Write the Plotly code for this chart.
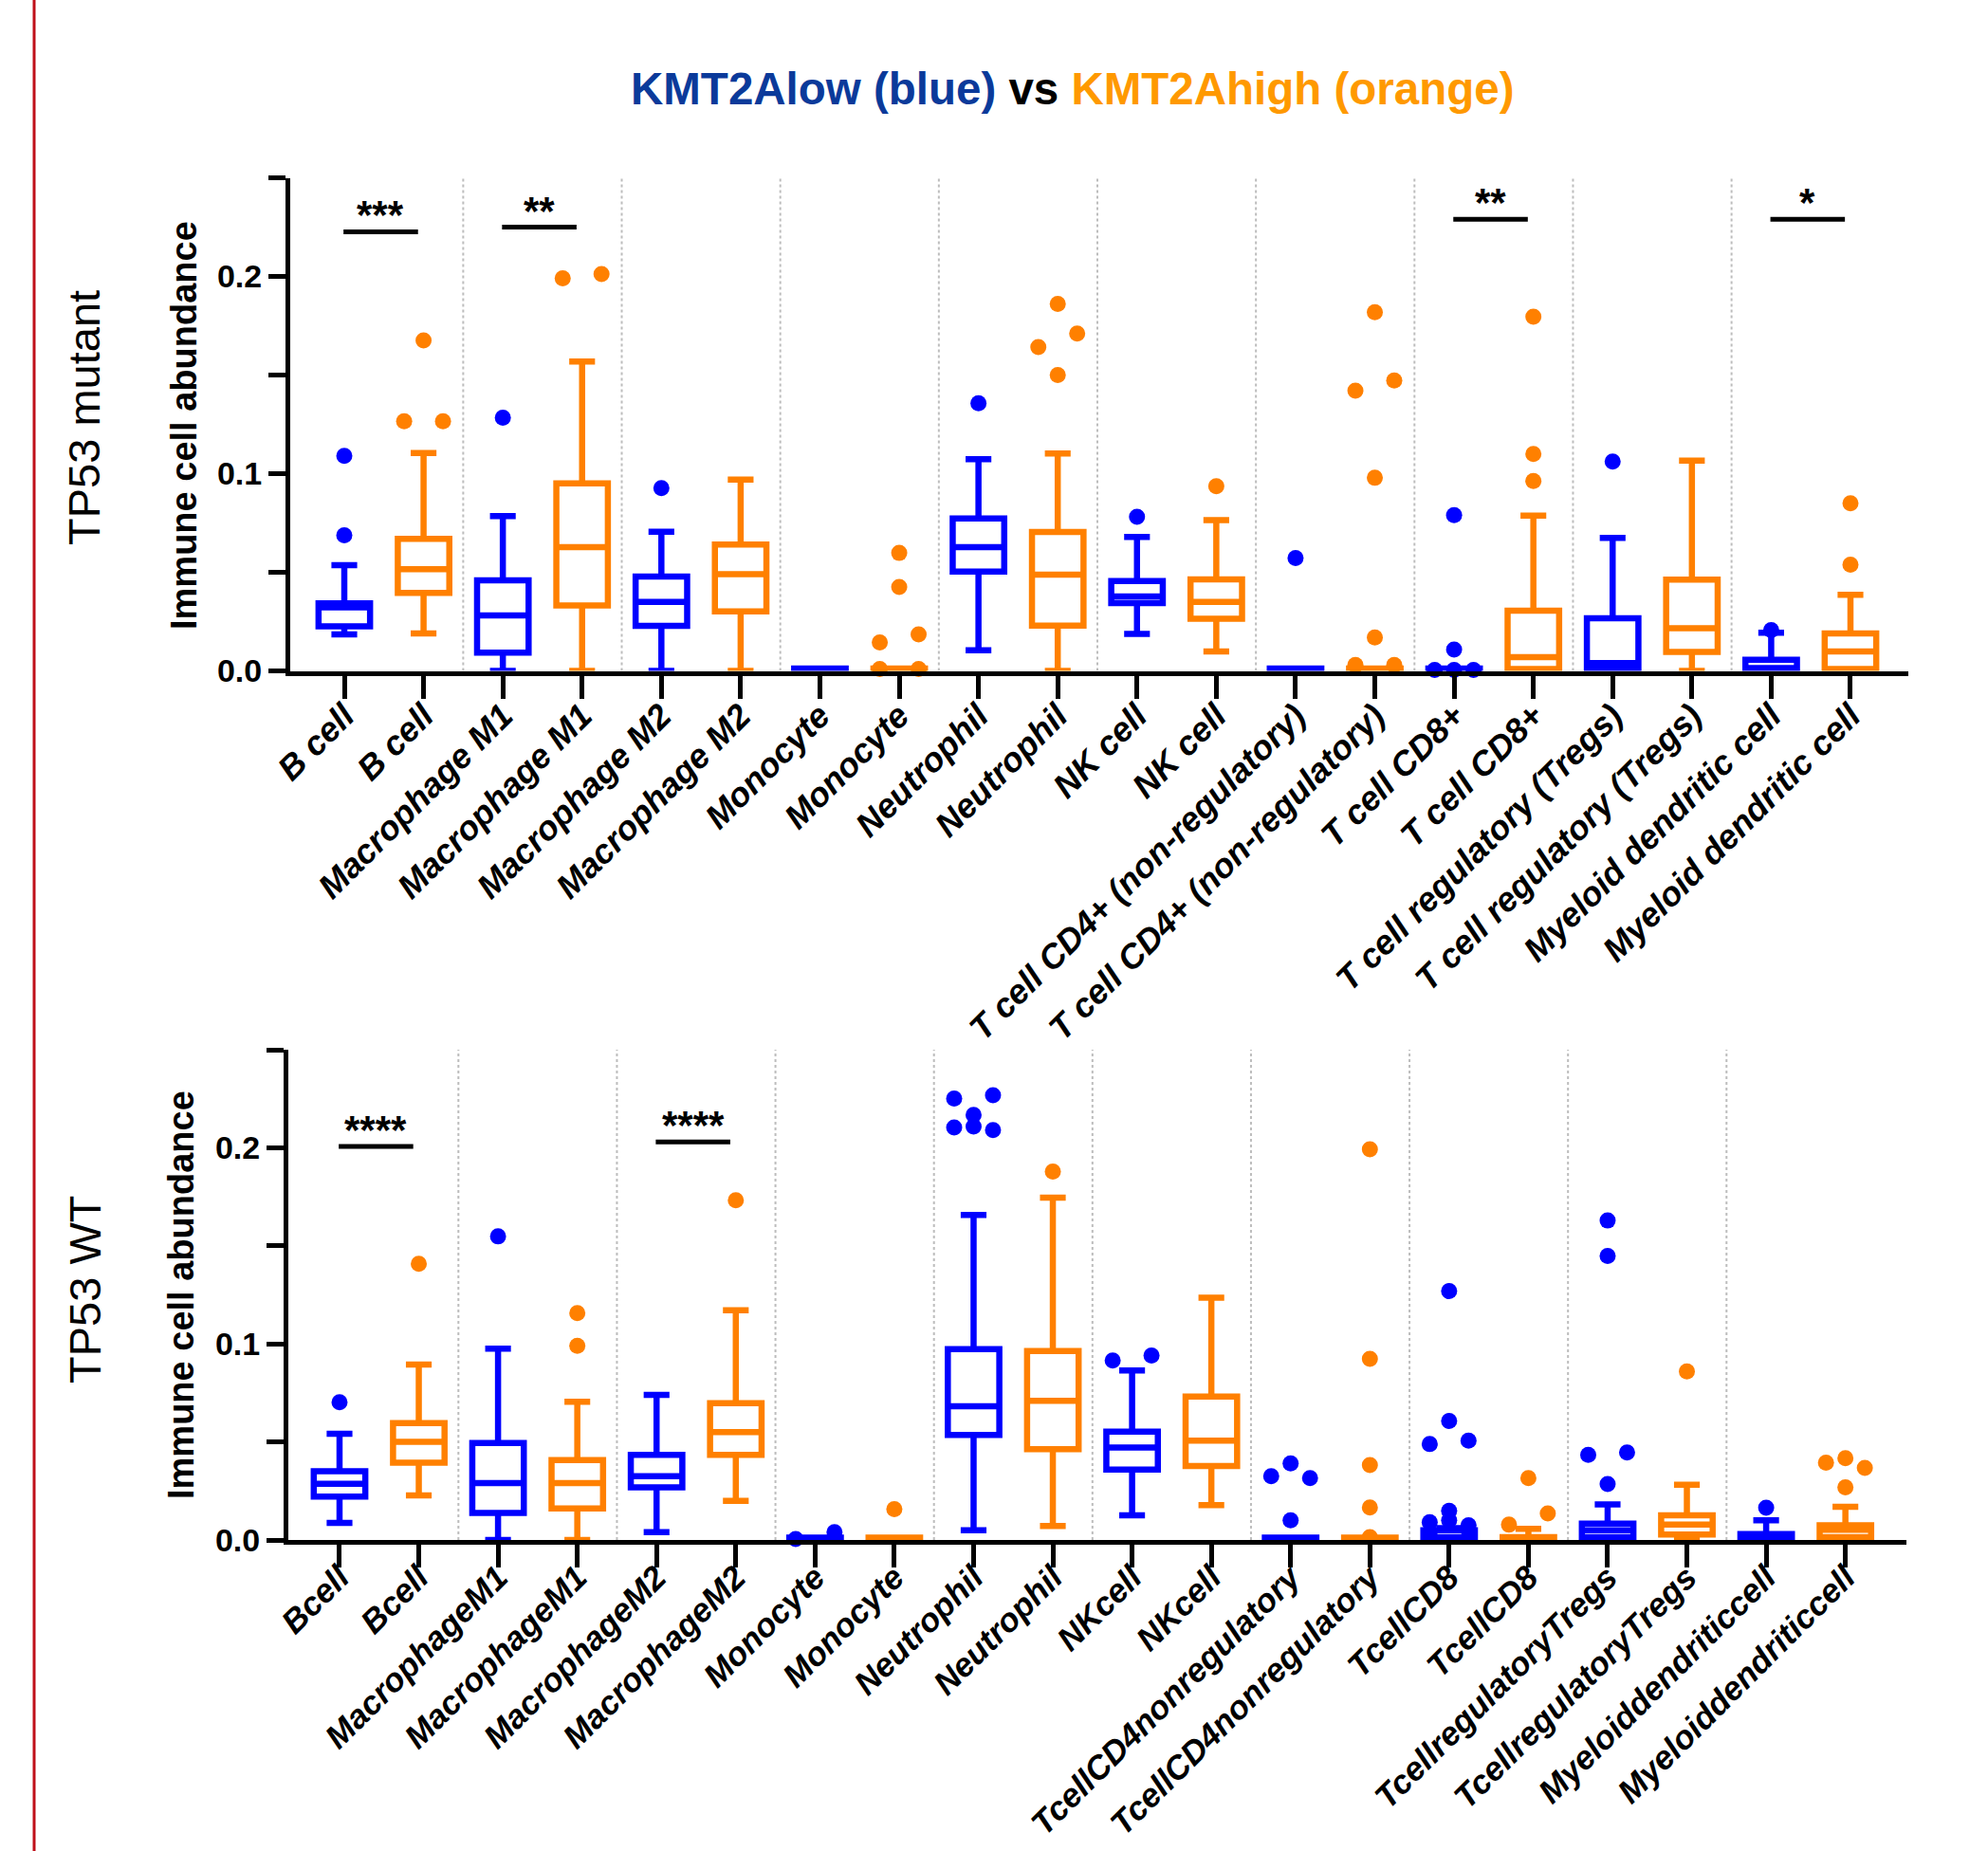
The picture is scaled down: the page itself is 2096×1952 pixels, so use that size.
import plotly.graph_objects as go

W, H = 2096, 1952
FONT = "Liberation Sans, Arial, sans-serif"
BLUE = "#0000FF"
ORANGE = "#FF8000"

labels_top = ["B cell", "B cell", "Macrophage M1", "Macrophage M1", "Macrophage M2", "Macrophage M2",
              "Monocyte", "Monocyte", "Neutrophil", "Neutrophil", "NK cell", "NK cell",
              "T cell CD4+ (non-regulatory)", "T cell CD4+ (non-regulatory)", "T cell CD8+", "T cell CD8+",
              "T cell regulatory (Tregs)", "T cell regulatory (Tregs)",
              "Myeloid dendritic cell", "Myeloid dendritic cell"]
labels_bottom = ["Bcell", "Bcell", "MacrophageM1", "MacrophageM1", "MacrophageM2", "MacrophageM2",
                 "Monocyte", "Monocyte", "Neutrophil", "Neutrophil", "NKcell", "NKcell",
                 "TcellCD4nonregulatory", "TcellCD4nonregulatory", "TcellCD8", "TcellCD8",
                 "TcellregulatoryTregs", "TcellregulatoryTregs",
                 "Myeloiddendriticcell", "Myeloiddendriticcell"]

# ---- TP53 mutant, KMT2A low (blue); order: B, M1, M2, Mono, Neut, NK, CD4, CD8, Treg, mDC
mut_low_lower = [0.0185, 0.0, 0.0, 0.0008, 0.0105, 0.0187, 0.0008, 0.0008, 0.0, 0.0]
mut_low_q1 = [0.0226, 0.0093, 0.0228, 0.0008, 0.0504, 0.0344, 0.0008, 0.0008, 0.0010, 0.0008]
mut_low_median = [0.0322, 0.0281, 0.0350, 0.0010, 0.0627, 0.0378, 0.0010, 0.0010, 0.0040, 0.0015]
mut_low_q3 = [0.0343, 0.0459, 0.0478, 0.0012, 0.0773, 0.0456, 0.0012, 0.0012, 0.0267, 0.0057]
mut_low_upper = [0.0536, 0.0785, 0.0706, 0.0012, 0.1073, 0.0679, 0.0012, 0.0012, 0.0674, 0.0194]
mut_low_out = [[0.109, 0.0687], [0.1284], [0.0927], [], [0.1357], [0.0781], [0.0572],
               [0.079, 0.0108, 0.0005, 0.0005, 0.0005], [0.1061], [0.0207]]

# ---- TP53 mutant, KMT2A high (orange)
mut_high_lower = [0.019, 0.0, 0.0, 0.0008, 0.0, 0.0099, 0.0008, 0.0, 0.0, 0.0]
mut_high_q1 = [0.0396, 0.0332, 0.0302, 0.0008, 0.0230, 0.0264, 0.0008, 0.0010, 0.0096, 0.0010]
mut_high_median = [0.0516, 0.0627, 0.0490, 0.0010, 0.0488, 0.0350, 0.0010, 0.0070, 0.0216, 0.0098]
mut_high_q3 = [0.0670, 0.0951, 0.0641, 0.0012, 0.0704, 0.0464, 0.0012, 0.0305, 0.0463, 0.0190]
mut_high_upper = [0.1104, 0.1568, 0.0970, 0.0012, 0.1102, 0.0764, 0.0012, 0.0787, 0.1066, 0.0386]
mut_high_out = [[0.1676, 0.1266, 0.1266], [0.2012, 0.199], [], [0.0598, 0.0425, 0.0185, 0.0144, 0.001, 0.001],
                [0.1861, 0.171, 0.1642, 0.150], [0.0936], [0.1818, 0.1472, 0.1421, 0.0979, 0.017, 0.003, 0.003],
                [0.1796, 0.110, 0.0963], [], [0.085, 0.0538]]

# ---- TP53 WT, KMT2A low (blue)
wt_low_lower = [0.0087, 0.0, 0.0040, 0.0008, 0.0049, 0.0126, 0.0008, 0.0, 0.0, 0.0]
wt_low_q1 = [0.0221, 0.0138, 0.0268, 0.0008, 0.0535, 0.0359, 0.0008, 0.0008, 0.0014, 0.0005]
wt_low_median = [0.0287, 0.0290, 0.0325, 0.0010, 0.0682, 0.0472, 0.0010, 0.0015, 0.0049, 0.0014]
wt_low_q3 = [0.0351, 0.0494, 0.0434, 0.0012, 0.0973, 0.0553, 0.0012, 0.0050, 0.0083, 0.0030]
wt_low_upper = [0.0541, 0.0976, 0.0740, 0.0012, 0.1658, 0.0864, 0.0012, 0.0060, 0.0181, 0.0100]
wt_low_out = [[0.0702], [0.1548], [], [0.004, 0.0005], [0.2268, 0.2251, 0.2168, 0.2108, 0.2104, 0.209],
              [0.0941, 0.0915], [0.039, 0.0325, 0.0316, 0.010],
              [0.1269, 0.0607, 0.0506, 0.0489, 0.0149, 0.010, 0.0091, 0.0075, 0.005, 0.004],
              [0.1629, 0.1448, 0.0446, 0.0434, 0.0285], [0.0164]]

# ---- TP53 WT, KMT2A high (orange)
wt_high_lower = [0.0227, 0.0, 0.0200, 0.0008, 0.0071, 0.0178, 0.0008, 0.0, 0.0, 0.0]
wt_high_q1 = [0.0394, 0.0161, 0.0434, 0.0008, 0.0463, 0.0377, 0.0008, 0.0008, 0.0028, 0.0014]
wt_high_median = [0.0500, 0.0290, 0.0550, 0.0010, 0.0710, 0.0506, 0.0010, 0.0010, 0.0078, 0.0052]
wt_high_q3 = [0.0596, 0.0408, 0.0697, 0.0012, 0.0964, 0.0731, 0.0012, 0.0015, 0.0126, 0.0075]
wt_high_upper = [0.0895, 0.0705, 0.1171, 0.0012, 0.1746, 0.1235, 0.0012, 0.0057, 0.0282, 0.0169]
wt_high_out = [[0.1408], [0.1157, 0.099], [0.1732], [0.0157], [0.1879], [],
               [0.1992, 0.0924, 0.0382, 0.0166, 0.0014], [0.0316, 0.0135, 0.0078], [0.086],
               [0.0417, 0.0394, 0.0368, 0.0268]]

# significance annotations (index of the blue category of each pair, label, bar height)
sig_top_idx = [0, 2, 14, 18]
sig_top_lab = ["***", "**", "**", "*"]
sig_top_h = [0.2226, 0.2250, 0.2290, 0.2290]
sig_bot_idx = [0, 4]
sig_bot_lab = ["****", "****"]
sig_bot_h = [0.2007, 0.2030]

yticks = [0.0, 0.05, 0.10, 0.15, 0.20, 0.25]
yticktext = ["0.0", "", "0.1", "", "0.2", ""]


def split_cluster(c):
    if len(c) <= 3:
        return [c]
    return split_cluster(c[:len(c) - 3]) + [c[len(c) - 3:]]


def swarm_offsets(vals, thr=0.0082, s=0.245):
    order = sorted(range(len(vals)), key=lambda i: -vals[i])
    offs = [0.0] * len(vals)
    clusters = []
    for i in order:
        if clusters and vals[clusters[-1][0]] - vals[i] < thr:
            clusters[-1].append(i)
        else:
            clusters.append([i])
    rows = []
    for c in clusters:
        rows.extend(split_cluster(c))
    for c in rows:
        n = len(c)
        pat = {1: [0.0], 2: [s, -s], 3: [0.0, -s, s]}[n]
        for idx, p in zip(c, pat):
            offs[idx] = p
    return offs


fig = go.Figure()


def add_group(lower, q1, med, q3, upper, outs, g, color, xa, ya):
    xs = [2 * j + g for j in range(10)]
    fig.add_trace(go.Box(
        x=xs, q1=q1, median=med, q3=q3, lowerfence=lower, upperfence=upper,
        boxpoints=False, width=0.65, whiskerwidth=0.5,
        line=dict(color=color, width=6.5), fillcolor="rgba(0,0,0,0)",
        xaxis=xa, yaxis=ya, showlegend=False, hoverinfo="skip"))
    px, py = [], []
    for j, vals in enumerate(outs):
        offs = swarm_offsets(vals)
        for v, o in zip(vals, offs):
            px.append(2 * j + g + o)
            py.append(v)
    fig.add_trace(go.Scatter(
        x=px, y=py, mode="markers", marker=dict(color=color, size=17, line=dict(width=0)),
        cliponaxis=False, xaxis=xa, yaxis=ya, showlegend=False, hoverinfo="skip"))


add_group(mut_low_lower, mut_low_q1, mut_low_median, mut_low_q3, mut_low_upper, mut_low_out, 0, BLUE, "x", "y")
add_group(mut_high_lower, mut_high_q1, mut_high_median, mut_high_q3, mut_high_upper, mut_high_out, 1, ORANGE, "x", "y")
add_group(wt_low_lower, wt_low_q1, wt_low_median, wt_low_q3, wt_low_upper, wt_low_out, 0, BLUE, "x2", "y2")
add_group(wt_high_lower, wt_high_q1, wt_high_median, wt_high_q3, wt_high_upper, wt_high_out, 1, ORANGE, "x2", "y2")

xaxis_common = dict(
    tickvals=list(range(20)), tickangle=-45, automargin=False,
    showline=True, linecolor="black", linewidth=5, ticks="outside", ticklen=24, tickwidth=5,
    tickcolor="black", showgrid=False, zeroline=False, fixedrange=True)
yaxis_common = dict(
    range=[0, 0.25], tickvals=yticks, ticktext=yticktext, automargin=False,
    tickfont=dict(family=FONT, size=34, color="black", weight="bold"),
    showline=True, linecolor="black", linewidth=5, ticks="outside", ticklen=18, tickwidth=5,
    tickcolor="black", showgrid=False, zeroline=False, fixedrange=True)

fig.update_layout(
    template="none",
    width=W, height=H, autosize=False,
    margin=dict(l=0, r=0, t=0, b=0, pad=0),
    paper_bgcolor="white", plot_bgcolor="white",
    boxmode="overlay", showlegend=False,
    xaxis=dict(xaxis_common, domain=[306 / W, 2012 / W], range=[-0.682, 19.73],
               ticktext=labels_top, anchor="y", ticklabelstandoff=-17,
               tickfont=dict(family=FONT, size=36, color="black", weight="bold", style="italic")),
    yaxis=dict(yaxis_common, domain=[1 - 707.5 / H, 1 - 187.5 / H], anchor="x"),
    xaxis2=dict(xaxis_common, domain=[304 / W, 2010 / W], range=[-0.646, 19.77],
                ticktext=labels_bottom, anchor="y2", ticklabelstandoff=-24,
                tickfont=dict(family=FONT, size=35, color="black", weight="bold", style="italic")),
    yaxis2=dict(yaxis_common, domain=[1 - 1624 / H, 1 - 1107 / H], anchor="x2"),
)

shapes = []
# dotted separators between cell types
for xr, yr in (("x", "y"), ("x2", "y2")):
    for k in range(9):
        shapes.append(dict(type="line", xref=xr, yref=yr, x0=1.5 + 2 * k, x1=1.5 + 2 * k, y0=0, y1=0.25,
                           line=dict(color="#BDBDBD", width=2, dash="dot"), layer="below"))

annotations = []
for xr, yr, idxs, labs, hs in (("x", "y", sig_top_idx, sig_top_lab, sig_top_h),
                               ("x2", "y2", sig_bot_idx, sig_bot_lab, sig_bot_h)):
    for i, lab, h in zip(idxs, labs, hs):
        shapes.append(dict(type="line", xref=xr, yref=yr, x0=i - 0.01, x1=i + 0.93, y0=h, y1=h,
                           line=dict(color="black", width=5)))
        annotations.append(dict(xref=xr, yref=yr, x=i + 0.46, y=h, text=lab, showarrow=False,
                                xanchor="center", yanchor="bottom", yshift=-8,
                                font=dict(family=FONT, size=42, color="black", weight="bold")))

# red vertical rule at left
shapes.append(dict(type="line", xref="paper", yref="paper", x0=36 / W, x1=36 / W, y0=0, y1=1,
                   line=dict(color="#C0101A", width=3)))

# title
annotations.append(dict(xref="paper", yref="paper", x=1131 / W, y=1 - 94 / H, showarrow=False,
                        xanchor="center", yanchor="middle",
                        text="<span style='color:#0B3A9A'>KMT2Alow (blue)</span> vs "
                             "<span style='color:#FF9900'>KMT2Ahigh (orange)</span>",
                        font=dict(family=FONT, size=47.5, color="black", weight="bold")))
# y-axis titles
for yc, xc in ((449, 194), (1366, 191)):
    annotations.append(dict(xref="paper", yref="paper", x=xc / W, y=1 - yc / H, showarrow=False,
                            xanchor="center", yanchor="middle", textangle=-90,
                            text="Immune cell abundance",
                            font=dict(family=FONT, size=38, color="black", weight="bold")))
# row labels
for yc, xc, txt in ((441, 88, "TP53 mutant"), (1360, 89, "TP53 WT")):
    annotations.append(dict(xref="paper", yref="paper", x=xc / W, y=1 - yc / H, showarrow=False,
                            xanchor="center", yanchor="middle", textangle=-90, text=txt,
                            font=dict(family=FONT, size=47, color="black")))

fig.update_layout(shapes=shapes, annotations=annotations)
fig.write_html("out.html")
